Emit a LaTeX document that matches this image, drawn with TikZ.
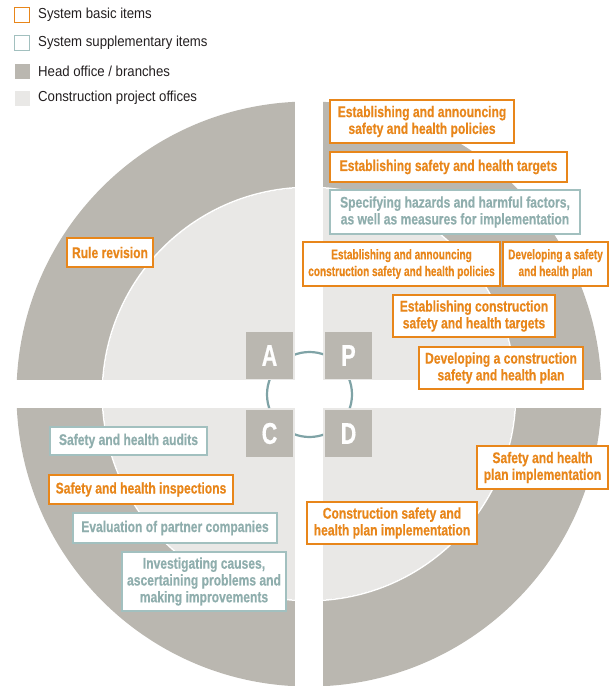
\documentclass[tikz,border=0pt]{standalone}
\usepackage{fontspec}
\newfontfamily\boxfont[FakeStretch=0.78,FakeBold=0.4]{Liberation Sans}
\newfontfamily\smallboxfont[FakeStretch=0.72,FakeBold=0.4]{Liberation Sans}
\newfontfamily\legfont[FakeStretch=0.91]{Liberation Sans}
\newfontfamily\letfont[FakeStretch=0.72,FakeBold=0.5]{Liberation Sans}
\definecolor{ringgray}{HTML}{BAB7B0}
\definecolor{lightgr}{HTML}{E9E8E6}
\definecolor{orng}{HTML}{E8861A}
\definecolor{tealb}{HTML}{A2C0BF}
\definecolor{tealt}{HTML}{8FAEAD}
\definecolor{arcc}{HTML}{7FA3A6}
\definecolor{legtext}{HTML}{231F20}
\begin{document}
\begin{tikzpicture}[x=1pt,y=-1pt,
  wh/.style 2 args={minimum width=#1, minimum height=#2},
  basic/.style={draw=orng, line width=1.5pt, fill=white, text=orng, inner sep=0pt, align=center,
    font=\boxfont\bfseries\fontsize{15.5}{16.8}\selectfont},
  basicsm/.style={basic, font=\smallboxfont\bfseries\fontsize{14}{16.8}\selectfont},
  supp/.style={draw=tealb, line width=1.5pt, fill=white, text=tealt, inner sep=0pt, align=center,
    font=\boxfont\bfseries\fontsize{15.5}{16.8}\selectfont},
  letterbox/.style={fill=ringgray, text=white, minimum size=47pt, inner sep=0pt,
    font=\letfont\bfseries\fontsize{30}{30}\selectfont},
  legsq/.style={minimum size=15pt, inner sep=0pt, line width=1.2pt},
  legtxt/.style={anchor=west, inner sep=0pt, text=legtext, font=\legfont\fontsize{14.5}{16}\selectfont}
]
\useasboundingbox (0,0) rectangle (613,686);
% rings
\fill[ringgray] (309,394) circle (292.5pt);
\fill[lightgr] (309,394) circle (206pt);
\draw[white, line width=1.5pt] (309,394) circle (206.7pt);
% white cross
\fill[white] (295,0) rectangle (323,686);
\fill[white] (0,380) rectangle (613,408);
% PDCA circle
\begin{scope}
  \clip (295,0) rectangle (323,686) (0,380) rectangle (613,408);
  \draw[arcc, line width=2.2pt] (309.5,394.5) circle (42.5pt);
\end{scope}
% letters
\node[letterbox] (A) at (269.5,355.5) {A};
\node[letterbox] (P) at (348.5,355.5) {P};
\node[letterbox] (C) at (269.5,433.5) {C};
\node[letterbox] (D) at (348.5,433.5) {D};
% legend
\node[legsq, draw=orng, fill=white] (l1) at (22,15) {};
\node[legsq, draw=tealb, fill=white] (l2) at (22,43) {};
\node[legsq, fill=ringgray] (l3) at (22,71) {};
\node[legsq, fill=lightgr] (l4) at (22,98) {};
\node[legtxt] (t1) at (38,15) {System basic items};
\node[legtxt] (t2) at (38,43) {System supplementary items};
\node[legtxt] (t3) at (38,71) {Head office / branches};
\node[legtxt] (t4) at (38,98) {Construction project offices};
% P quadrant
\node[basic, wh={184pt}{43pt}] (b1) at (422,121.5) {Establishing and announcing\\safety and health policies};
\node[basic, wh={237pt}{30pt}] (b2) at (448.5,167) {Establishing safety and health targets};
\node[supp, wh={250pt}{44pt}] (b3) at (455,212) {Specifying hazards and harmful factors,\\as well as measures for implementation};
\node[basicsm, wh={197pt}{44pt}] (b4) at (401.5,264) {Establishing and announcing\\construction safety and health policies};
\node[basicsm, wh={105pt}{44pt}] (b5) at (555.5,264) {Developing a safety\\and health plan};
\node[basic, wh={162pt}{42pt}] (b6) at (474,316) {Establishing construction\\safety and health targets};
\node[basic, wh={164pt}{42pt}] (b7) at (501,368) {Developing a construction\\safety and health plan};
% A quadrant
\node[basic, wh={86pt}{29pt}] (b8) at (110,252.5) {Rule revision};
% C quadrant
\node[supp, wh={157pt}{28pt}] (b9) at (128.5,441) {Safety and health audits};
\node[basic, wh={184pt}{29pt}] (b10) at (141,489.5) {Safety and health inspections};
\node[supp, wh={204pt}{30pt}] (b11) at (175,528) {Evaluation of partner companies};
\node[supp, wh={164pt}{59pt}] (b12) at (204,581.5) {Investigating causes,\\ascertaining problems and\\making improvements};
% D quadrant
\node[basic, wh={131pt}{43pt}] (b13) at (542.5,467.5) {Safety and health\\plan implementation};
\node[basic, wh={170pt}{42pt}] (b14) at (392,523) {Construction safety and\\health plan implementation};
\end{tikzpicture}
\end{document}
